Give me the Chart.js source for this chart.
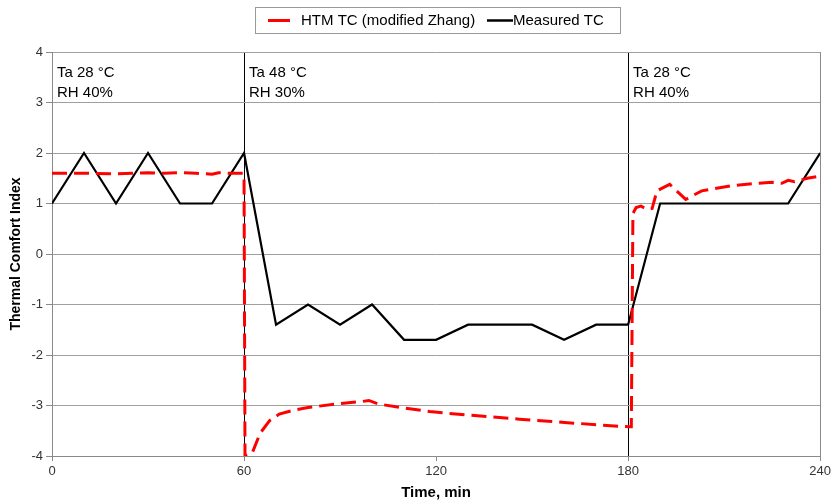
<!DOCTYPE html>
<html>
<head>
<meta charset="utf-8">
<script src="https://cdn.jsdelivr.net/npm/chart.js@4.4.1/dist/chart.umd.min.js"></script>
<style>
  html, body { margin: 0; padding: 0; background: #fff; }
  #wrap { width: 834px; height: 504px; position: relative; }
</style>
</head>
<body>
<div id="wrap"><canvas id="tc"></canvas></div>
<script>
// --- data ---
const measuredX = [0, 10, 20, 30, 40, 50, 60, 70, 80, 90, 100, 110, 120, 130, 140, 150, 160, 170, 180, 190, 200, 210, 220, 230, 240];
const measuredY = [1, 2, 1, 2, 1, 1, 2, -1.4, -1, -1.4, -1, -1.7, -1.7, -1.4, -1.4, -1.4, -1.7, -1.4, -1.4, 1, 1, 1, 1, 1, 2];

const htmX = [0, 10, 20, 25, 30, 35, 40, 45, 50, 52, 55, 59.7, 60, 60.3, 62.5, 65, 68, 71, 75, 80, 90, 97, 99, 102, 110, 118, 130, 146, 161, 177, 180.5, 181, 181.5, 182.5, 184, 186, 187.5, 189, 190.5, 193, 196, 198, 200, 203, 212, 220, 225, 228, 230, 232, 236, 240];
const htmY = [1.6, 1.6, 1.59, 1.6, 1.61, 1.6, 1.61, 1.6, 1.58, 1.61, 1.6, 1.6, 1.58, -4, -3.95, -3.55, -3.3, -3.17, -3.1, -3.04, -2.96, -2.92, -2.9, -2.97, -3.05, -3.12, -3.19, -3.27, -3.34, -3.41, -3.42, -3.42, 0.8, 0.92, 0.95, 0.88, 0.9, 1.25, 1.3, 1.38, 1.2, 1.08, 1.15, 1.25, 1.35, 1.4, 1.42, 1.4, 1.46, 1.43, 1.5, 1.54];

const xTicks = [0, 60, 120, 180, 240];
const sections = [
  { start: 0, lines: ['Ta 28 °C', 'RH 40%'] },
  { start: 60, lines: ['Ta 48 °C', 'RH 30%'] },
  { start: 180, lines: ['Ta 28 °C', 'RH 40%'] }
];
const seriesNames = ['HTM TC (modified Zhang)', 'Measured TC'];

const FONT = '"Liberation Sans", Arial, sans-serif';
Chart.defaults.font.family = FONT;

const toPts = (xs, ys) => xs.map((x, i) => ({ x, y: ys[i] }));

// section labels inside the plot
const sectionLabels = {
  id: 'sectionLabels',
  afterDatasetsDraw(chart) {
    const { ctx, scales: { x, y } } = chart;
    ctx.save();
    ctx.fillStyle = '#000';
    ctx.font = '15px ' + FONT;
    ctx.textBaseline = 'alphabetic';
    ctx.textAlign = 'left';
    const top = y.getPixelForValue(4);
    sections.forEach(s => {
      const px = x.getPixelForValue(s.start) + 5;
      s.lines.forEach((t, i) => ctx.fillText(t, px, top + 25 + i * 20));
    });
    ctx.restore();
  }
};

// boxed legend on top
const boxLegend = {
  id: 'boxLegend',
  afterDraw(chart) {
    const { ctx } = chart;
    ctx.save();
    ctx.strokeStyle = '#999';
    ctx.lineWidth = 1;
    ctx.strokeRect(255.5, 7.5, 365, 26);
    ctx.font = '15px ' + FONT;
    ctx.textBaseline = 'middle';
    ctx.fillStyle = '#000';
    const cy = 20.5;
    // item 1
    ctx.strokeStyle = '#ff0000';
    ctx.lineWidth = 3;
    ctx.beginPath(); ctx.moveTo(268, cy); ctx.lineTo(290, cy); ctx.stroke();
    ctx.fillText(seriesNames[0], 301, cy);
    // item 2
    ctx.strokeStyle = '#000';
    ctx.lineWidth = 2.5;
    ctx.beginPath(); ctx.moveTo(487, cy); ctx.lineTo(513, cy); ctx.stroke();
    ctx.fillText(seriesNames[1], 513, cy);
    ctx.restore();
  }
};

new Chart(document.getElementById('tc'), {
  type: 'line',
  data: {
    datasets: [
      {
        label: seriesNames[0],
        data: toPts(htmX, htmY),
        borderColor: '#ff0000',
        borderWidth: 3,
        borderDash: [15, 7],
        pointRadius: 0,
        tension: 0,
        fill: false
      },
      {
        label: seriesNames[1],
        data: toPts(measuredX, measuredY),
        borderColor: '#000000',
        borderWidth: 2.2,
        pointRadius: 0,
        tension: 0,
        fill: false
      }
    ]
  },
  options: {
    responsive: true,
    maintainAspectRatio: false,
    animation: false,
    layout: { padding: { top: 52, right: 11, left: 0, bottom: 0 } },
    plugins: {
      legend: { display: false },
      tooltip: { enabled: false }
    },
    scales: {
      x: {
        type: 'linear',
        min: 0, max: 240,
        afterBuildTicks: s => { s.ticks = xTicks.map(v => ({ value: v })); },
        afterFit: s => { s.height = 48; },
        ticks: { color: '#333', font: { size: 13 }, padding: 3, maxRotation: 0 },
        grid: {
          color: c => (c.tick && (c.tick.value === 60 || c.tick.value === 180)) ? '#000' :
                      (c.tick && c.tick.value === 120 ? 'rgba(0,0,0,0)' : '#8a8a8a'),
          tickColor: '#8a8a8a',
          tickLength: 5,
          lineWidth: 1
        },
        border: { color: '#8a8a8a' },
        title: {
          display: true,
          text: 'Time, min',
          color: '#000',
          font: { size: 15, weight: 'bold' },
          padding: { top: 0, bottom: 2 }
        }
      },
      y: {
        min: -4, max: 4,
        afterFit: s => { s.width = 52; },
        ticks: { stepSize: 1, color: '#333', font: { size: 13 }, padding: 3 },
        grid: { color: '#a0a0a0', tickColor: '#8a8a8a', tickLength: 6, lineWidth: 1 },
        border: { color: '#8a8a8a' },
        title: {
          display: true,
          text: 'Thermal Comfort Index',
          color: '#000',
          font: { size: 14, weight: 'bold' },
          padding: { top: 8, bottom: 0 }
        }
      }
    }
  },
  plugins: [sectionLabels, boxLegend]
});
</script>
</body>
</html>
